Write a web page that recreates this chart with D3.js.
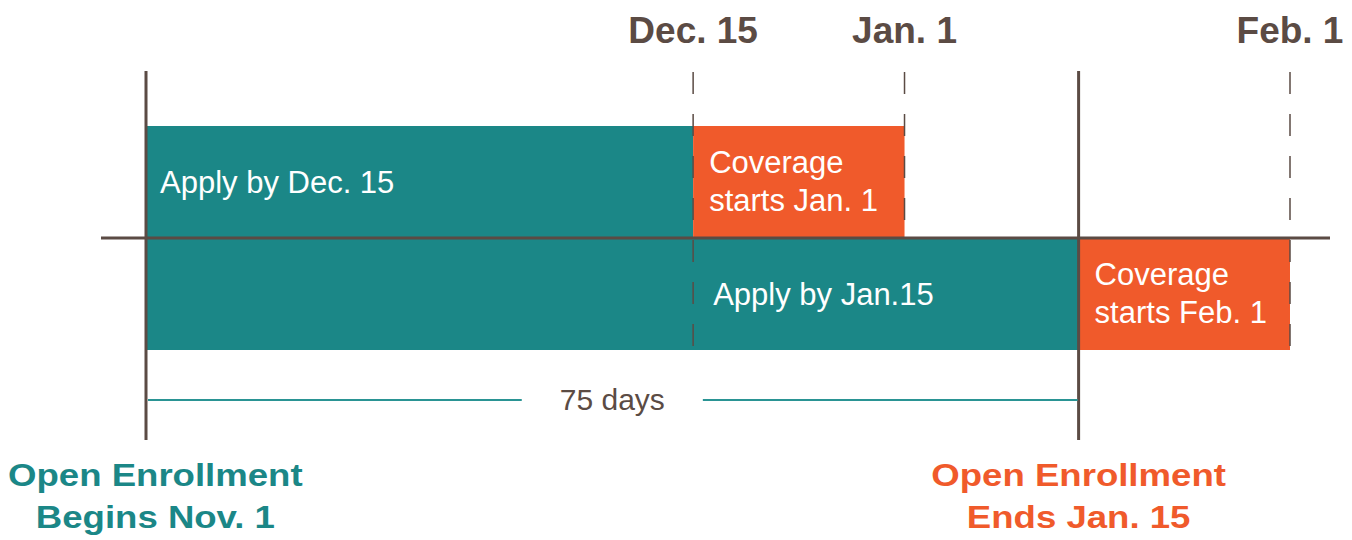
<!DOCTYPE html>
<html>
<head>
<meta charset="utf-8">
<script src="https://cdn.jsdelivr.net/npm/d3@7"></script>
<style>
  body { margin: 0; background: #fff; }
  text { font-family: "Liberation Sans", Arial, sans-serif; }
</style>
</head>
<body>
<script>
// timeline data
const startDate = '2018-11-01';
const endDate = '2019-02-01';
const markDates = ['2018-12-15', '2019-01-01', '2019-02-01'];
const markLabels = ['Dec. 15', 'Jan. 1', 'Feb. 1'];
const markRows = ['late', 'early', 'late'];
const rows = ['early', 'late'];
const applyFrom = ['2018-11-01', '2018-11-01'];
const applyBy = ['2018-12-15', '2019-01-15'];
const applyLabels = ['Apply by Dec. 15', 'Apply by Jan.15'];
const applyLabelAt = ['2018-11-01', '2018-12-15'];
const coverageStarts = ['2019-01-01', '2019-02-01'];
const coverageLabels = [['Coverage', 'starts Jan. 1'], ['Coverage', 'starts Feb. 1']];
const enrollDates = ['2018-11-01', '2019-01-15'];
const enrollLabels = [['Open Enrollment', 'Begins Nov. 1'], ['Open Enrollment', 'Ends Jan. 15']];
const periodLabel = '75 days';

const teal = '#1b8787', orange = '#f05a2b', ink = '#5b4b44';
const parse = d3.utcParse('%Y-%m-%d');

const svg = d3.select(document.body).append('svg')
  .attr('width', 1352)
  .attr('height', 540);

const x = d3.scaleUtc()
  .domain([parse(startDate), parse(endDate)])
  .range([146, 1290]);
const y = d3.scaleBand()
  .domain(rows)
  .range([126, 350]);
const axisY = y('late');

// bars
rows.forEach((r, i) => {
  svg.append('rect')
    .attr('x', x(parse(applyFrom[i])))
    .attr('y', y(r))
    .attr('width', x(parse(applyBy[i])) - x(parse(applyFrom[i])))
    .attr('height', y.bandwidth())
    .attr('fill', teal);
  svg.append('rect')
    .attr('x', x(parse(applyBy[i])))
    .attr('y', y(r))
    .attr('width', x(parse(coverageStarts[i])) - x(parse(applyBy[i])))
    .attr('height', y.bandwidth())
    .attr('fill', orange);

  svg.append('text')
    .attr('x', x(parse(applyLabelAt[i])) + (i ? 20 : 14))
    .attr('y', y(r) + 67)
    .attr('fill', '#fff')
    .attr('font-size', 31)
    .text(applyLabels[i]);

  svg.append('text')
    .attr('x', x(parse(applyBy[i])) + 16)
    .attr('y', y(r) + 47)
    .attr('fill', '#fff')
    .attr('font-size', 31)
    .selectAll('tspan')
    .data(coverageLabels[i])
    .join('tspan')
    .attr('x', x(parse(applyBy[i])) + 16)
    .attr('dy', (d, j) => j ? 38 : 0)
    .text(d => d);
});

// dashed date markers
markDates.forEach((d, i) => {
  const mx = x(parse(d));
  svg.append('line')
    .attr('x1', mx).attr('x2', mx)
    .attr('y1', 72)
    .attr('y2', y(markRows[i]) + y.bandwidth())
    .attr('stroke', ink)
    .attr('stroke-width', 1.5)
    .attr('stroke-dasharray', '22,20');
  svg.append('text')
    .attr('x', mx)
    .attr('y', 43)
    .attr('text-anchor', 'middle')
    .attr('fill', ink)
    .attr('font-size', 37)
    .attr('font-weight', 'bold')
    .text(markLabels[i]);
});

// axis line
svg.append('line')
  .attr('x1', x(parse(startDate)) - 45)
  .attr('x2', x(parse(endDate)) + 40)
  .attr('y1', axisY).attr('y2', axisY)
  .attr('stroke', ink)
  .attr('stroke-width', 3);

// open enrollment bounds
const enrollColors = [teal, orange];
enrollDates.forEach((d, i) => {
  const ex = x(parse(d));
  svg.append('line')
    .attr('x1', ex).attr('x2', ex)
    .attr('y1', 71).attr('y2', 440)
    .attr('stroke', ink)
    .attr('stroke-width', 3);

  const g = svg.append('g');
  const t = g.append('text')
    .attr('text-anchor', 'middle')
    .attr('fill', enrollColors[i])
    .attr('font-size', 31)
    .attr('font-weight', 'bold');
  t.selectAll('tspan')
    .data(enrollLabels[i])
    .join('tspan')
    .attr('x', 0)
    .attr('y', (s, j) => 486 + j * 42)
    .text(s => s);
  const half = t.node().getBBox().width * 1.18 / 2;
  const cx = Math.max(ex, half + 8);
  g.attr('transform', `translate(${cx},0) scale(1.18,1)`);
});

// 75 days span
const x0 = x(parse(enrollDates[0])), x1 = x(parse(enrollDates[1]));
const mid = (x0 + x1) / 2;
const period = svg.append('text')
  .attr('x', mid)
  .attr('y', 410)
  .attr('text-anchor', 'middle')
  .attr('fill', ink)
  .attr('font-size', 30)
  .text(periodLabel);
const pw = period.node().getBBox().width / 2 + 38;
[[x0 + 2, mid - pw], [mid + pw, x1 - 1]].forEach(([a, b]) => {
  svg.append('line')
    .attr('x1', a).attr('x2', b)
    .attr('y1', 400).attr('y2', 400)
    .attr('stroke', '#2a9494')
    .attr('stroke-width', 2);
});
</script>
</body>
</html>
